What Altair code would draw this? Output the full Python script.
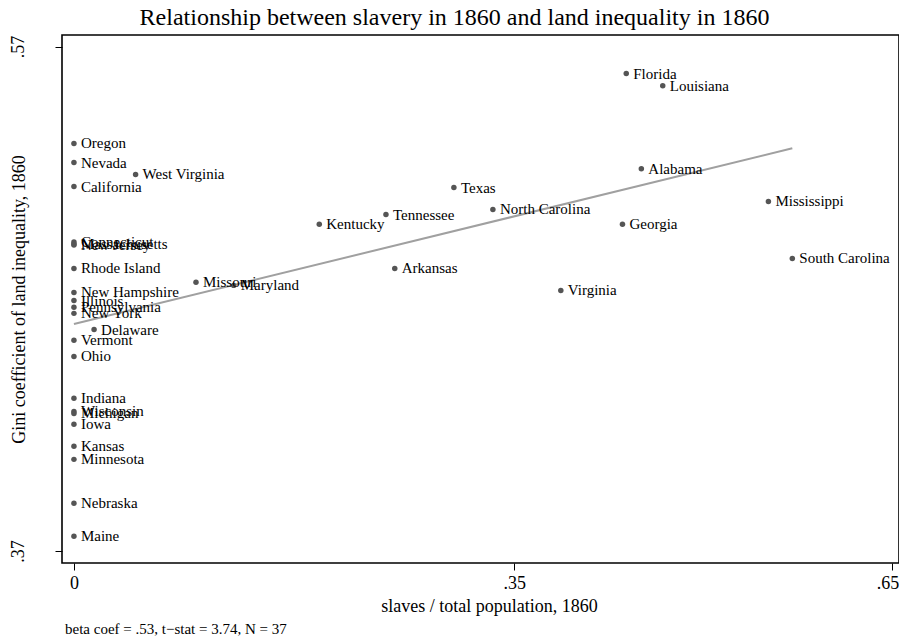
import altair as alt
import pandas as pd

states = ["Oregon", "Nevada", "West Virginia", "California", "Connecticut", "Massachusetts",
          "New Jersey", "Rhode Island", "New Hampshire", "Illinois", "Pennsylvania", "New York",
          "Delaware", "Vermont", "Ohio", "Indiana", "Wisconsin", "Michigan", "Iowa", "Kansas",
          "Minnesota", "Nebraska", "Maine", "Missouri", "Maryland", "Kentucky", "Tennessee",
          "Arkansas", "Texas", "North Carolina", "Virginia", "Florida", "Louisiana", "Alabama",
          "Georgia", "Mississippi", "South Carolina"]
slaves = [0.0, 0.0, 0.049, 0.0, 0.0, 0.0,
          0.0, 0.0, 0.0, 0.0, 0.0, 0.0,
          0.016, 0.0, 0.0, 0.0, 0.0, 0.0, 0.0, 0.0,
          0.0, 0.0, 0.0, 0.097, 0.127, 0.195, 0.248,
          0.255, 0.302, 0.333, 0.387, 0.439, 0.468, 0.451,
          0.436, 0.552, 0.571]
gini = [0.5316, 0.5240, 0.5193, 0.5145, 0.4925, 0.4917,
        0.4913, 0.4820, 0.4725, 0.4693, 0.4666, 0.4642,
        0.4578, 0.4535, 0.4471, 0.4305, 0.4253, 0.4245, 0.4202, 0.4115,
        0.4063, 0.3889, 0.3758, 0.4765, 0.4753, 0.4995, 0.5034,
        0.4820, 0.5141, 0.5054, 0.4733, 0.5593, 0.5545, 0.5216,
        0.4995, 0.5086, 0.4860]

df = pd.DataFrame({"state": states, "slaves": slaves, "gini": gini})

FONT = "Liberation Serif"
label_expr = "datum.value == 0 ? '0' : replace(format(datum.value, '.2f'), '0.', '.')"

x = alt.X("slaves:Q",
          scale=alt.Scale(domain=[-0.0095, 0.6558], nice=False, zero=False),
          axis=alt.Axis(values=[0, 0.35, 0.65], labelExpr=label_expr, grid=False,
                        title="slaves / total population, 1860", tickSize=7,
                        tickColor="black", labelFontSize=18, titleFontSize=18,
                        labelPadding=4, titlePadding=5, titleFontWeight="normal",
                        titleX=427,
                        labelAlign={"condition": {"test": "datum.value > 0.6", "value": "right"},
                                    "value": "center"},
                        labelOffset={"condition": {"test": "datum.value > 0.6", "value": 7},
                                     "value": 0},
                        labelColor="black", titleColor="black", domain=False))
y = alt.Y("gini:Q",
          scale=alt.Scale(domain=[0.3652, 0.5746], nice=False, zero=False),
          axis=alt.Axis(values=[0.37, 0.57], labelExpr=label_expr, grid=False,
                        title="Gini coefficient of land inequality, 1860", tickSize=7,
                        tickColor="black", labelFontSize=18, titleFontSize=18,
                        labelAngle=270, labelAlign="center", labelBaseline="bottom",
                        labelPadding=28, titleFontWeight="normal",
                        titleX=-38, titleY=264, titleAngle=270, titleAlign="center",
                        titleBaseline="alphabetic",
                        labelColor="black", titleColor="black", domain=False))

base = alt.Chart(df)

pts = base.mark_circle(size=30, color="#555555", opacity=1).encode(x=x, y=y)
labels = base.mark_text(align="left", baseline="middle", dx=7, font=FONT, fontSize=15,
                        color="black").encode(x=x, y=y, text="state:N")
fit = base.transform_regression("slaves", "gini").mark_line(
    color="#a0a0a0", strokeWidth=2).encode(x=x, y=y)

note = alt.Chart(pd.DataFrame({"t": ["beta coef = .53, t\u2212stat = 3.74, N = 37"]})).mark_text(
    align="left", baseline="alphabetic", font=FONT, fontSize=15, color="black").encode(
    x=alt.value(3), y=alt.value(599), text="t:N")

chart = alt.layer(fit, pts, labels, note).properties(
    width=837, height=528,
    title=alt.TitleParams("Relationship between slavery in 1860 and land inequality in 1860",
                          font=FONT, fontSize=24, fontWeight="normal", color="black",
                          dx=-26, offset=5),
    autosize=alt.AutoSizeParams(type="none"),
    padding={"left": 54, "top": 27, "right": 0, "bottom": 74},
).configure(font=FONT).configure_view(stroke="black", strokeWidth=1.6).configure_axis(
    labelFont=FONT, titleFont=FONT)

chart.save("out.html", embed_options={"renderer": "svg", "actions": False})
